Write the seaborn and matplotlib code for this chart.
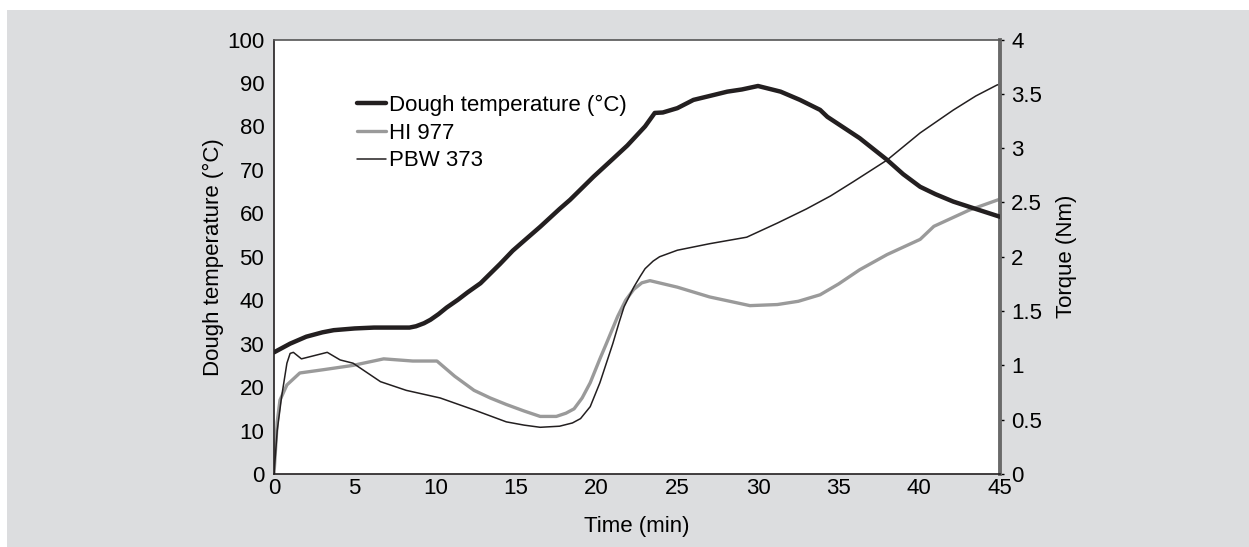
import matplotlib
matplotlib.use("Agg")
import matplotlib.pyplot as plt
import seaborn as sns
import pandas as pd
from matplotlib.patches import Rectangle
from matplotlib.lines import Line2D

# ---- data ----
dough_time = [0, 1, 2, 3, 3.7, 5, 6.2, 8.4, 8.8, 9.3, 9.7, 10.2, 10.7, 11.4, 12, 12.8, 14,
              14.8, 15.6, 16.5, 17.7, 18.35, 19.8, 21, 21.9, 23, 23.6, 24.1, 25, 26, 27,
              28.1, 29, 30, 31.4, 32.6, 33.85, 34.3, 36.3, 38, 39, 40.05, 41, 42.1, 43.5, 45]
dough_temp = [28.0, 30.0, 31.6, 32.6, 33.1, 33.5, 33.7, 33.7, 34.0, 34.7, 35.5, 36.8, 38.3,
              40.1, 41.8, 43.9, 48.3, 51.4, 54.0, 56.9, 61.0, 63.1, 68.4, 72.5, 75.6, 80.0,
              83.1, 83.2, 84.2, 86.1, 87.0, 88.0, 88.5, 89.3, 88.0, 86.1, 83.8, 82.2, 77.3,
              72.3, 69.0, 66.1, 64.4, 62.7, 61.0, 59.2]

hi_time = [0, 0.2, 0.37, 0.8, 1.6, 3.05, 4.9, 6.8, 8.6, 10.1, 11.2, 12.4, 13.4, 14.4, 15.5,
           16.5, 17.5, 18.1, 18.6, 19.1, 19.6, 20.2, 20.6, 21.3, 21.8, 22.3, 22.8, 23.3,
           25.0, 27.0, 29.5, 31.2, 32.5, 33.85, 35.0, 36.3, 38.0, 40.05, 40.9, 43.1, 44.8, 45]
hi_torque = [0, 0.48, 0.68, 0.82, 0.93, 0.96, 1.00, 1.06, 1.04, 1.04, 0.90, 0.77, 0.70, 0.64,
             0.58, 0.53, 0.53, 0.56, 0.60, 0.70, 0.84, 1.06, 1.20, 1.45, 1.60, 1.70, 1.76,
             1.78, 1.72, 1.63, 1.55, 1.56, 1.59, 1.65, 1.75, 1.88, 2.02, 2.16, 2.28, 2.43,
             2.52, 2.53]

pbw_time = [0, 0.2, 0.47, 0.8, 1.0, 1.2, 1.7, 2.5, 3.3, 4.1, 4.9, 5.8, 6.6, 8.2, 10.3, 12.4,
            14.4, 15.5, 16.5, 17.7, 18.5, 19.0, 19.6, 20.2, 20.6, 21.0, 21.4, 21.7, 22.3,
            22.7, 23.0, 23.5, 23.9, 25.0, 27.0, 29.3, 31.2, 33.0, 34.5, 35.9, 38.0, 40.05,
            42.1, 43.5, 44.8, 45]
pbw_torque = [0, 0.40, 0.71, 1.02, 1.11, 1.12, 1.06, 1.09, 1.12, 1.05, 1.02, 0.93, 0.85, 0.77,
              0.70, 0.59, 0.48, 0.45, 0.43, 0.44, 0.47, 0.51, 0.62, 0.84, 1.02, 1.20, 1.40,
              1.54, 1.72, 1.82, 1.89, 1.96, 2.00, 2.06, 2.12, 2.18, 2.31, 2.44, 2.56, 2.69,
              2.89, 3.14, 3.35, 3.48, 3.58, 3.59]

x_ticks = [0, 5, 10, 15, 20, 25, 30, 35, 40, 45]
left_ticks = [0, 10, 20, 30, 40, 50, 60, 70, 80, 90, 100]
right_ticks = [0, 0.5, 1, 1.5, 2, 2.5, 3, 3.5, 4]
right_ticklabels = ["0", "0.5", "1", "1.5", "2", "2.5", "3", "3.5", "4"]

labels = ["Dough temperature (°C)", "HI 977", "PBW 373"]

# ---- style ----
sns.set_style("white")
plt.rcParams['font.family'] = ['Liberation Sans Narrow', 'Liberation Sans', 'DejaVu Sans']
plt.rcParams['text.color'] = 'black'
plt.rcParams['axes.labelcolor'] = 'black'
FS = 16

W, H = 1249, 547
fig = plt.figure(figsize=(W / 100, H / 100), dpi=100, facecolor="white")
fig.patches.append(Rectangle((7 / W, 0), 1 - 7 / W, (H - 10) / H, transform=fig.transFigure,
                             facecolor="#dcdddf", edgecolor="none", zorder=-10))

ax = fig.add_axes([274 / W, (H - 474) / H, 726 / W, 434.5 / H])
ax.set_facecolor("white")
ax2 = ax.twinx()

c_dough = "#231f20"
c_hi = "#9a9a9a"
c_pbw = "#231f20"

df_d = pd.DataFrame({"t": dough_time, "v": dough_temp})
df_h = pd.DataFrame({"t": hi_time, "v": hi_torque})
df_p = pd.DataFrame({"t": pbw_time, "v": pbw_torque})

sns.lineplot(data=df_h, x="t", y="v", ax=ax2, color=c_hi, linewidth=2.4, legend=False)
sns.lineplot(data=df_p, x="t", y="v", ax=ax2, color=c_pbw, linewidth=1.1, legend=False)
sns.lineplot(data=df_d, x="t", y="v", ax=ax, color=c_dough, linewidth=3.2, legend=False)

ax.set_zorder(2)
ax.patch.set_visible(False)
ax2.set_zorder(1)
ax2.patch.set_visible(True)
ax2.patch.set_facecolor("white")

ax.set_xlim(0, 45)
ax.set_ylim(0, 100)
ax2.set_ylim(0, 4)
ax.set_xticks(x_ticks)
ax.set_xticklabels([str(v) for v in x_ticks])
ax.set_yticks(left_ticks)
ax.set_yticklabels([str(v) for v in left_ticks])
ax2.set_yticks(right_ticks)
ax2.set_yticklabels(right_ticklabels)

ax.tick_params(axis="x", length=0, pad=3, labelsize=FS, colors="black")
ax.tick_params(axis="y", length=0, pad=7, labelsize=FS, colors="black")
ax2.tick_params(axis="y", length=3, width=1, pad=5, labelsize=FS, colors="black",
                direction="out")
for t in ax2.get_yticklines():
    t.set_color("#555555")

ax.set_xlabel("Time (min)", fontsize=FS, labelpad=12)
ax.set_ylabel("Dough temperature (°C)", fontsize=FS, labelpad=2)
ax2.set_ylabel("Torque (Nm)", fontsize=FS, labelpad=10)
ax2.set_xlabel("")

for sp in ["left", "bottom"]:
    ax.spines[sp].set_color("#231f20")
    ax.spines[sp].set_linewidth(1.2)
ax.spines["top"].set_color("#555555")
ax.spines["top"].set_linewidth(1.2)
ax.spines["right"].set_visible(False)
for sp in ["left", "bottom", "top"]:
    ax2.spines[sp].set_visible(False)
ax2.spines["right"].set_color("#6a6a6a")
ax2.spines["right"].set_linewidth(2.8)

handles = [Line2D([], [], color=c_dough, linewidth=3.2),
           Line2D([], [], color=c_hi, linewidth=2.4),
           Line2D([], [], color=c_pbw, linewidth=1.1)]
leg = ax.legend(handles, labels, loc="upper left",
                bbox_to_anchor=((357 - 274) / 726, 1 - (95 - 39.5) / 434.5),
                frameon=False, fontsize=FS, handlelength=1.3, handletextpad=0.15,
                labelspacing=0.3, borderaxespad=0, borderpad=0)

fig.savefig("out.png", dpi=100, facecolor=fig.get_facecolor())
